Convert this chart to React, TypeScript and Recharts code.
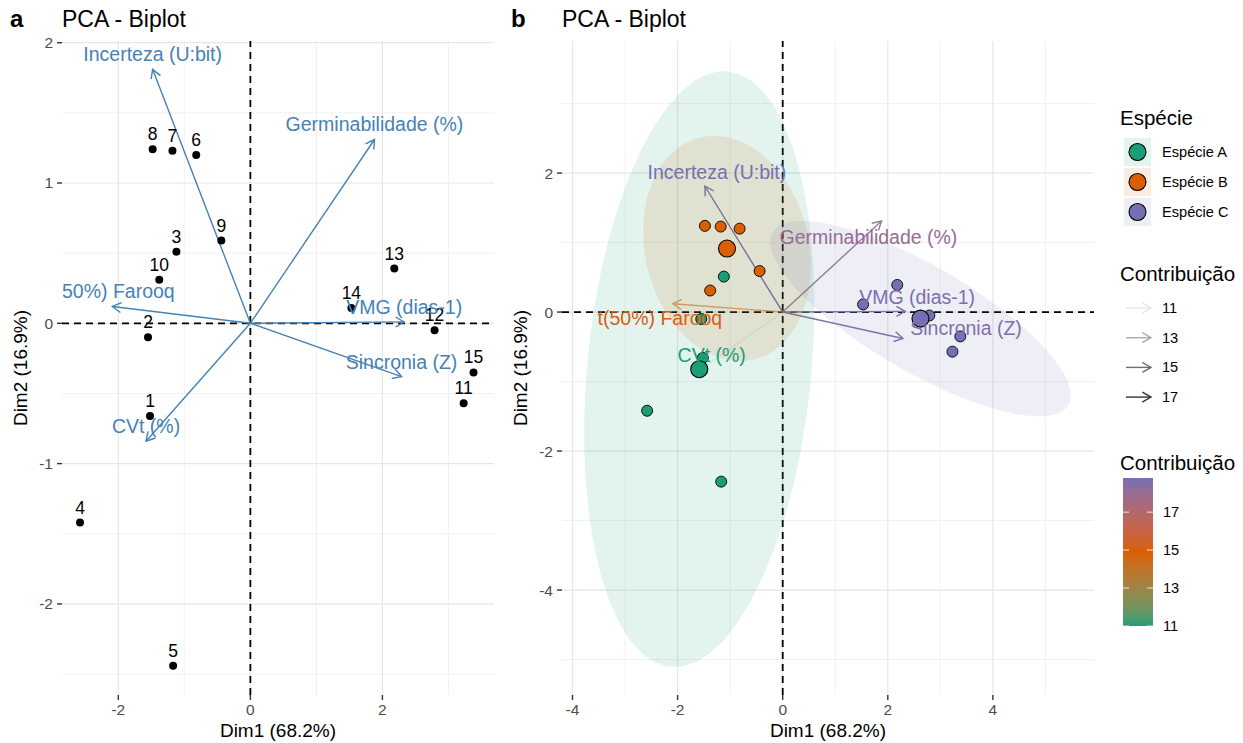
import React from 'react';
import { ScatterChart, Scatter, XAxis, YAxis, ReferenceLine } from 'recharts';

const FONT = '"Liberation Sans", Arial, Helvetica, sans-serif';

// individuos (coordenadas Dim1 / Dim2)
const individuos = ['1', '2', '3', '4', '5', '6', '7', '8', '9', '10', '11', '12', '13', '14', '15'];
const dim1 = [-1.52, -1.55, -1.12, -2.58, -1.17, -0.82, -1.18, -1.48, -0.44, -1.38, 3.23, 2.79, 2.18, 1.53, 3.38];
const dim2 = [-0.66, -0.10, 0.51, -1.42, -2.44, 1.20, 1.23, 1.24, 0.59, 0.31, -0.57, -0.05, 0.39, 0.11, -0.35];
const grupo = [0, 0, 0, 0, 0, 1, 1, 1, 1, 1, 2, 2, 2, 2, 2];
const especies = ['Espécie A', 'Espécie B', 'Espécie C'];
const coresEspecie = ['#1B9E77', '#D95F02', '#7570B3'];

// variaveis (setas)
const variaveis = ['Incerteza (U:bit)', 'Germinabilidade (%)', 'VMG (dias-1)', 'Sincronia (Z)', 't(50%) Farooq', 'CVt (%)'];
const varDim1 = [-1.48, 1.88, 2.33, 2.29, -2.09, -1.58];
const varDim2 = [1.81, 1.31, 0.01, -0.38, 0.12, -0.84];
const contribuicao = [18.8, 18.0, 18.7, 18.5, 15.0, 11.0];
const contribBreaks = [11, 13, 15, 17];

// deslocamento dos rotulos das setas no painel b (px)
const rotuloDxB = [12, -13, 12, 63, -13, 12];
const rotuloDyB = [-14, 16, -14, -10, 14, -15];

const xTicksA = [-2, 0, 2];
const xMinorA = [-1, 1, 3];
const yTicksA = [-2, -1, 0, 1, 2];
const yMinorA = [-2.5, -1.5, -0.5, 0.5, 1.5];
const xTicksB = [-4, -2, 0, 2, 4];
const xMinorB = [-3, -1, 1, 3, 5];
const yTicksB = [-4, -2, 0, 2];
const yMinorB = [-5, -3, -1, 1, 3];

const F95 = 6.944272; // qf(0.95, 2, 4)

// ---- cores (interpolacao em Lab, como no ggplot) ----
const toLab = (hex: string) => {
  const c = [1, 3, 5].map((i) => parseInt(hex.slice(i, i + 2), 16) / 255)
    .map((v) => (v <= 0.04045 ? v / 12.92 : Math.pow((v + 0.055) / 1.055, 2.4)));
  const X = (0.4124 * c[0] + 0.3576 * c[1] + 0.1805 * c[2]) / 0.95047;
  const Y = 0.2126 * c[0] + 0.7152 * c[1] + 0.0722 * c[2];
  const Z = (0.0193 * c[0] + 0.1192 * c[1] + 0.9505 * c[2]) / 1.08883;
  const f = (t: number) => (t > 0.008856 ? Math.cbrt(t) : 7.787 * t + 16 / 116);
  return [116 * f(Y) - 16, 500 * (f(X) - f(Y)), 200 * (f(Y) - f(Z))];
};
const fromLab = (L: number, a: number, b: number) => {
  const fy = (L + 16) / 116, fx = fy + a / 500, fz = fy - b / 200;
  const inv = (t: number) => (t * t * t > 0.008856 ? t * t * t : (t - 16 / 116) / 7.787);
  const X = inv(fx) * 0.95047, Y = inv(fy), Z = inv(fz) * 1.08883;
  const r = 3.2406 * X - 1.5372 * Y - 0.4986 * Z;
  const g = -0.9689 * X + 1.8758 * Y + 0.0415 * Z;
  const bl = 0.0557 * X - 0.204 * Y + 1.057 * Z;
  const s = (v: number) => {
    const x = v <= 0.0031308 ? 12.92 * v : 1.055 * Math.pow(v, 1 / 2.4) - 0.055;
    return Math.round(Math.min(1, Math.max(0, x)) * 255).toString(16).padStart(2, '0');
  };
  return '#' + s(r) + s(g) + s(bl);
};
const cMin = Math.min(...contribuicao);
const cMax = Math.max(...contribuicao);
const corContrib = (v: number) => {
  const t = (v - cMin) / (cMax - cMin);
  const [c1, c2, u] = t < 0.5 ? [coresEspecie[0], coresEspecie[1], t / 0.5] : [coresEspecie[1], coresEspecie[2], (t - 0.5) / 0.5];
  const a = toLab(c1), b = toLab(c2);
  return fromLab(a[0] + (b[0] - a[0]) * u, a[1] + (b[1] - a[1]) * u, a[2] + (b[2] - a[2]) * u);
};
const alphaContrib = (v: number) => 0.1 + 0.9 * (v - cMin) / (cMax - cMin);

// elipse normal (95%) de cada grupo
const elipse = (g: number) => {
  const xs = dim1.filter((_, i) => grupo[i] === g);
  const ys = dim2.filter((_, i) => grupo[i] === g);
  const n = xs.length;
  const mx = xs.reduce((s, v) => s + v, 0) / n;
  const my = ys.reduce((s, v) => s + v, 0) / n;
  const vx = xs.reduce((s, v) => s + (v - mx) ** 2, 0) / (n - 1);
  const vy = ys.reduce((s, v) => s + (v - my) ** 2, 0) / (n - 1);
  const cxy = xs.reduce((s, v, i) => s + (v - mx) * (ys[i] - my), 0) / (n - 1);
  const r = Math.sqrt(2 * F95);
  const a = Math.sqrt(vx), b = cxy / a, c = Math.sqrt(vy - b * b);
  return Array.from({ length: 52 }, (_, i) => {
    const t = (i / 51) * 2 * Math.PI;
    return { x: mx + r * a * Math.cos(t), y: my + r * (b * Math.cos(t) + c * Math.sin(t)) };
  });
};
const media = (g: number) => {
  const xs = dim1.filter((_, i) => grupo[i] === g);
  const ys = dim2.filter((_, i) => grupo[i] === g);
  return [{ x: xs.reduce((s, v) => s + v, 0) / xs.length, y: ys.reduce((s, v) => s + v, 0) / ys.length }];
};

const seta = (color: string, opacity: number, width: number) => (p: any) => {
  const { x1, y1, x2, y2 } = p;
  if (x1 == null || x2 == null) return <g />;
  const ang = Math.atan2(y2 - y1, x2 - x1);
  const L = 10, a = Math.PI / 6;
  const h1 = `${x2 - L * Math.cos(ang - a)},${y2 - L * Math.sin(ang - a)}`;
  const h2 = `${x2 - L * Math.cos(ang + a)},${y2 - L * Math.sin(ang + a)}`;
  return (
    <g opacity={opacity}>
      <line x1={x1} y1={y1} x2={x2} y2={y2} stroke={color} strokeWidth={width} />
      <polyline points={`${h1} ${x2},${y2} ${h2}`} fill="none" stroke={color} strokeWidth={width} />
    </g>
  );
};

const Vazio = () => <g />;

const PontoRotulado = (p: any) => (
  <g>
    <circle cx={p.cx} cy={p.cy} r={4} fill="#000" />
    <text x={p.cx} y={p.cy - 15} textAnchor="middle" dominantBaseline="central" fontSize={17.5} fill="#000">
      {p.payload.id}
    </text>
  </g>
);

const RotuloVar = (p: any) => (
  <text x={p.cx + p.payload.dx} y={p.cy + p.payload.dy} textAnchor="middle" dominantBaseline="central"
    fontSize={19.5} fill={p.payload.cor}>
    {p.payload.label}
  </text>
);

const grade = (xMaj: number[], xMin: number[], yMaj: number[], yMin: number[]) => [
  ...xMin.map((v) => <ReferenceLine key={'xm' + v} x={v} stroke="#EBEBEB" strokeWidth={0.7} />),
  ...yMin.map((v) => <ReferenceLine key={'ym' + v} y={v} stroke="#EBEBEB" strokeWidth={0.7} />),
  ...xMaj.map((v) => <ReferenceLine key={'xM' + v} x={v} stroke="#E6E6E6" strokeWidth={1.2} />),
  ...yMaj.map((v) => <ReferenceLine key={'yM' + v} y={v} stroke="#E6E6E6" strokeWidth={1.2} />),
];

const tickStyle = { fill: '#4D4D4D', fontSize: 15.5 };
const tickLine = { stroke: '#333', strokeWidth: 1.4 };

export default function App() {
  const pontos = individuos.map((id, i) => ({ x: dim1[i], y: dim2[i], id }));
  const rotulosA = variaveis.map((label, i) => ({ x: varDim1[i], y: varDim2[i], label, dx: 0, dy: -15, cor: '#4682B4' }));
  const rotulosB = variaveis.map((label, i) => ({
    x: varDim1[i], y: varDim2[i], label, dx: rotuloDxB[i], dy: rotuloDyB[i], cor: corContrib(contribuicao[i]),
  }));

  const yBar = (v: number) => 626 - ((v - cMin) / (cMax - cMin)) * 148;
  const gradStops = Array.from({ length: 21 }, (_, i) => i / 20);

  return (
    <div style={{ position: 'absolute', left: 0, top: 0, width: 1243, height: 743, background: '#fff', fontFamily: FONT }}>
      <div style={{ position: 'absolute', left: 0, top: 0 }}>
        <ScatterChart width={500} height={743} margin={{ top: 41, right: 6, bottom: 18, left: 32 }}>
          <XAxis type="number" dataKey="x" domain={[-2.853, 3.69]} ticks={xTicksA} interval={0} allowDataOverflow
            axisLine={false} tickLine={tickLine} tickSize={5} tickMargin={4} tick={tickStyle} height={30} />
          <YAxis type="number" dataKey="y" domain={[-2.649, 2.012]} ticks={yTicksA} interval={0} allowDataOverflow
            axisLine={false} tickLine={tickLine} tickSize={5} tickMargin={4} tick={tickStyle} width={30} />
          {grade(xTicksA, xMinorA, yTicksA, yMinorA)}
          <ReferenceLine x={0} stroke="#000" strokeWidth={1.8} strokeDasharray="7 5" />
          <ReferenceLine y={0} stroke="#000" strokeWidth={1.8} strokeDasharray="7 5" />
          {variaveis.map((v, i) => (
            <ReferenceLine key={v} segment={[{ x: 0, y: 0 }, { x: varDim1[i], y: varDim2[i] }]}
              shape={seta('#4682B4', 1, 1.4)} />
          ))}
          <Scatter data={pontos} shape={PontoRotulado} isAnimationActive={false} />
          <Scatter data={rotulosA} shape={RotuloVar} isAnimationActive={false} />
        </ScatterChart>
      </div>

      <div style={{ position: 'absolute', left: 500, top: 0 }}>
        <ScatterChart width={600} height={743} margin={{ top: 41, right: 6, bottom: 18, left: 32 }}>
          <XAxis type="number" dataKey="x" domain={[-4.2, 5.924]} ticks={xTicksB} interval={0} allowDataOverflow
            axisLine={false} tickLine={tickLine} tickSize={5} tickMargin={4} tick={tickStyle} height={30} />
          <YAxis type="number" dataKey="y" domain={[-5.51, 3.9]} ticks={yTicksB} interval={0} allowDataOverflow
            axisLine={false} tickLine={tickLine} tickSize={5} tickMargin={4} tick={tickStyle} width={30} />
          {grade(xTicksB, xMinorB, yTicksB, yMinorB)}
          {especies.map((e, g) => (
            <Scatter key={'el' + e} data={elipse(g)} shape={Vazio} isAnimationActive={false}
              line={(p: any) => (
                <polygon points={p.points.map((q: any) => `${q.x},${q.y}`).join(' ')}
                  fill={coresEspecie[g]} fillOpacity={0.12} stroke="none" />
              )} />
          ))}
          <ReferenceLine x={0} stroke="#000" strokeWidth={1.8} strokeDasharray="7 5" />
          <ReferenceLine y={0} stroke="#000" strokeWidth={1.8} strokeDasharray="7 5" />
          {variaveis.map((v, i) => (
            <ReferenceLine key={v} segment={[{ x: 0, y: 0 }, { x: varDim1[i], y: varDim2[i] }]}
              shape={seta(corContrib(contribuicao[i]), alphaContrib(contribuicao[i]), 1.4)} />
          ))}
          {especies.map((e, g) => (
            <Scatter key={'pt' + e} data={pontos.filter((_, i) => grupo[i] === g)} isAnimationActive={false}
              shape={(p: any) => <circle cx={p.cx} cy={p.cy} r={5.5} fill={coresEspecie[g]} stroke="#000" strokeWidth={0.9} />} />
          ))}
          {especies.map((e, g) => (
            <Scatter key={'md' + e} data={media(g)} isAnimationActive={false}
              shape={(p: any) => <circle cx={p.cx} cy={p.cy} r={8.5} fill={coresEspecie[g]} stroke="#000" strokeWidth={1.1} />} />
          ))}
          <Scatter data={rotulosB} shape={RotuloVar} isAnimationActive={false} />
        </ScatterChart>
      </div>

      <svg width={1243} height={743} style={{ position: 'absolute', left: 0, top: 0, pointerEvents: 'none' }}>
        <defs>
          <linearGradient id="barra" x1="0" y1="1" x2="0" y2="0">
            {gradStops.map((s) => (
              <stop key={s} offset={s} stopColor={corContrib(cMin + s * (cMax - cMin))} />
            ))}
          </linearGradient>
        </defs>
        <text x={10} y={27} fontSize={24} fontWeight="bold">a</text>
        <text x={62} y={27} fontSize={23}>PCA - Biplot</text>
        <text x={511} y={27} fontSize={24} fontWeight="bold">b</text>
        <text x={562} y={27} fontSize={23}>PCA - Biplot</text>
        <text x={278} y={737} fontSize={19} textAnchor="middle">Dim1 (68.2%)</text>
        <text x={828} y={737} fontSize={19} textAnchor="middle">Dim1 (68.2%)</text>
        <text transform="translate(27,368) rotate(-90)" fontSize={19} textAnchor="middle">Dim2 (16.9%)</text>
        <text transform="translate(527,368) rotate(-90)" fontSize={19} textAnchor="middle">Dim2 (16.9%)</text>

        <text x={1120} y={125} fontSize={20.5}>Espécie</text>
        {especies.map((e, g) => (
          <g key={e}>
            <rect x={1124} y={138 + g * 30} width={27} height={28} fill={coresEspecie[g]} fillOpacity={0.12} />
            <circle cx={1137.5} cy={152 + g * 30} r={8.5} fill={coresEspecie[g]} stroke="#000" strokeWidth={1.1} />
            <text x={1162} y={152 + g * 30} fontSize={14.6} dominantBaseline="central">{e}</text>
          </g>
        ))}

        <text x={1120} y={281} fontSize={20.5}>Contribuição</text>
        {contribBreaks.map((v, k) => {
          const y = 308 + k * 29.7;
          return (
            <g key={v}>
              {seta('#000', alphaContrib(v), 1.4)({ x1: 1126, y1: y, x2: 1151, y2: y })}
              <text x={1162} y={y} fontSize={14.6} dominantBaseline="central">{v}</text>
            </g>
          );
        })}

        <text x={1120} y={470} fontSize={20.5}>Contribuição</text>
        <rect x={1123} y={478} width={30} height={148} fill="url(#barra)" />
        {contribBreaks.map((v) => (
          <g key={'cb' + v}>
            <line x1={1123} x2={1129} y1={yBar(v)} y2={yBar(v)} stroke="#fff" strokeOpacity={0.8} />
            <line x1={1147} x2={1153} y1={yBar(v)} y2={yBar(v)} stroke="#fff" strokeOpacity={0.8} />
            <text x={1163} y={yBar(v)} fontSize={14.6} dominantBaseline="central">{v}</text>
          </g>
        ))}
      </svg>
    </div>
  );
}
